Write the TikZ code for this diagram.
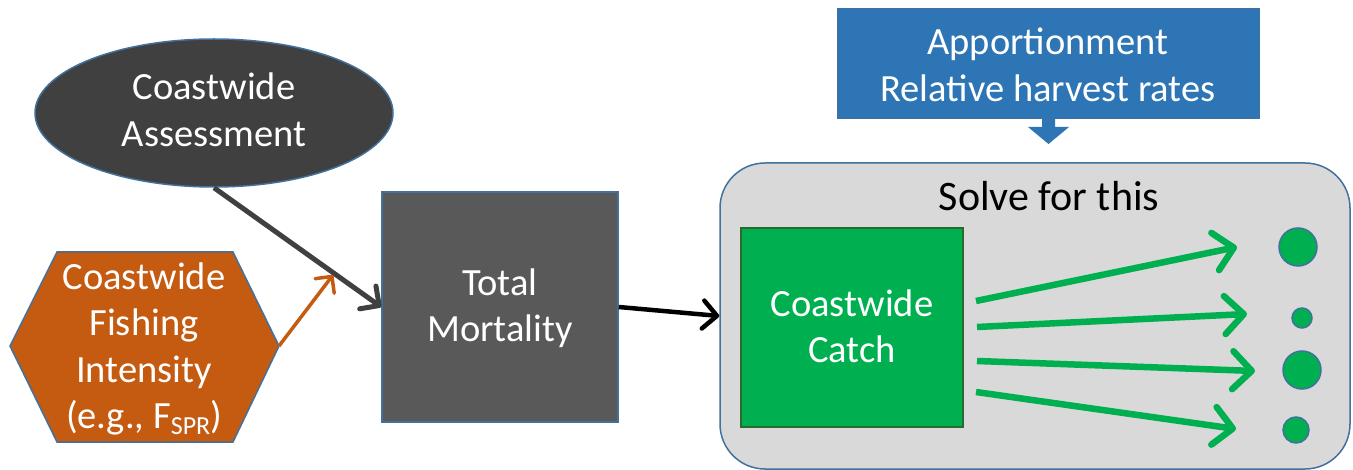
\documentclass[tikz,border=0pt]{standalone}
\usepackage{fontspec}
\setmainfont{Carlito}
\usetikzlibrary{shapes.geometric,arrows.meta}
\definecolor{edgeblue}{HTML}{41719C}
\definecolor{darkfill}{HTML}{404040}
\definecolor{boxgray}{HTML}{595959}
\definecolor{orangefill}{HTML}{C55A11}
\definecolor{bluefill}{HTML}{2E75B6}
\definecolor{lightgray}{HTML}{D9D9D9}
\definecolor{greenfill}{HTML}{00B050}
\definecolor{darkgreen}{HTML}{2A6A2A}
\tikzset{
  bigtext/.style={font=\fontsize{38.5}{46.5}\selectfont, align=center},
  whitetext/.style={bigtext, text=white},
  darkarrow/.style={line width=5pt, draw=darkfill, -{Straight Barb[length=14pt,width=28pt,round]}},
  blackarrow/.style={line width=4.5pt, draw=black, -{Straight Barb[length=14pt,width=28pt,round]}},
  orangearrow/.style={line width=3.5pt, draw=orangefill, -{Straight Barb[length=12pt,width=24pt,round]}},
  greenarrow/.style={line width=6.5pt, draw=greenfill, -{Straight Barb[length=19pt,width=38pt,round]}},
  dot/.style={circle, fill=greenfill, draw=edgeblue, line width=1.5pt, inner sep=0pt},
}
\begin{document}
\begin{tikzpicture}[x=1pt,y=-1pt]
\useasboundingbox (0,0) rectangle (1353,470);

% Coastwide Assessment ellipse
\node[ellipse, draw=edgeblue, line width=1.5pt, fill=darkfill, minimum width=358pt, minimum height=148pt, inner sep=0pt] (assess) at (214,113) {};
\node[whitetext] (assesstext) at (214,110) {Coastwide\\Assessment};

% Hexagon
\draw[fill=orangefill, draw=edgeblue, line width=1.5pt] (10,346) -- (57,252) -- (233,252) -- (279,346) -- (233,442) -- (57,442) -- cycle;
\coordinate (hexR) at (279,346);
\node[whitetext] (hex) at (144,349) {Coastwide\\Fishing\\Intensity\\(e.g., F{\fontsize{26}{26}\selectfont\raisebox{-6pt}{SPR}})};

% Total Mortality
\node[draw=edgeblue, line width=1.5pt, fill=boxgray, minimum width=236pt, minimum height=230pt, inner sep=0pt] (total) at (500,307) {};
\node[whitetext] (totaltext) at (500,308) {Total\\Mortality};

% Apportionment
\node[draw=edgeblue, line width=1pt, fill=bluefill, minimum width=422pt, minimum height=110pt, inner sep=0pt] (apport) at (1048,64) {};
\node[whitetext] (apporttext) at (1048,65) {Apportionment\\Relative harvest rates};
\fill[bluefill] (1042,119) -- (1055,119) -- (1055,127) -- (1069,127) -- (1048.5,144) -- (1028,127) -- (1042,127) -- cycle;

% Solve region
\node[draw=edgeblue, line width=1.5pt, fill=lightgray, rounded corners=45pt, minimum width=630pt, minimum height=306pt, inner sep=0pt] (solve) at (1035,316) {};
\node[font=\fontsize{42}{50}\selectfont, text=black] (solvetext) at (1049,196) {Solve for this};

% Coastwide Catch
\node[draw=darkgreen, line width=1.5pt, fill=greenfill, minimum width=222pt, minimum height=199pt, inner sep=0pt] (catch) at (852,327.5) {};
\node[whitetext] (catchtext) at (852,326.5) {Coastwide\\Catch};

% dots
\node[dot, minimum size=38pt] (d1) at (1298,247) {};
\node[dot, minimum size=20pt] (d2) at (1302,318) {};
\node[dot, minimum size=38pt] (d3) at (1302,370) {};
\node[dot, minimum size=26pt] (d4) at (1296,430) {};

% arrow endpoints
\coordinate (s1) at (976,301);
\coordinate (s2) at (977,327);
\coordinate (s3) at (977,361);
\coordinate (s4) at (976,392);
\coordinate (e1) at (1237,247);
\coordinate (e2) at (1247,314);
\coordinate (e3) at (1255,371);
\coordinate (e4) at (1236,429);
\coordinate (orangeend) at (333,275);

% connectors
\draw[darkarrow] (assess.south) -- (total.west);
\draw[orangearrow] (hexR) -- (orangeend);
\draw[blackarrow] (total.east) -- (solve.west);
\draw[greenarrow] (s1) -- (e1);
\draw[greenarrow] (s2) -- (e2);
\draw[greenarrow] (s3) -- (e3);
\draw[greenarrow] (s4) -- (e4);
\end{tikzpicture}
\end{document}
